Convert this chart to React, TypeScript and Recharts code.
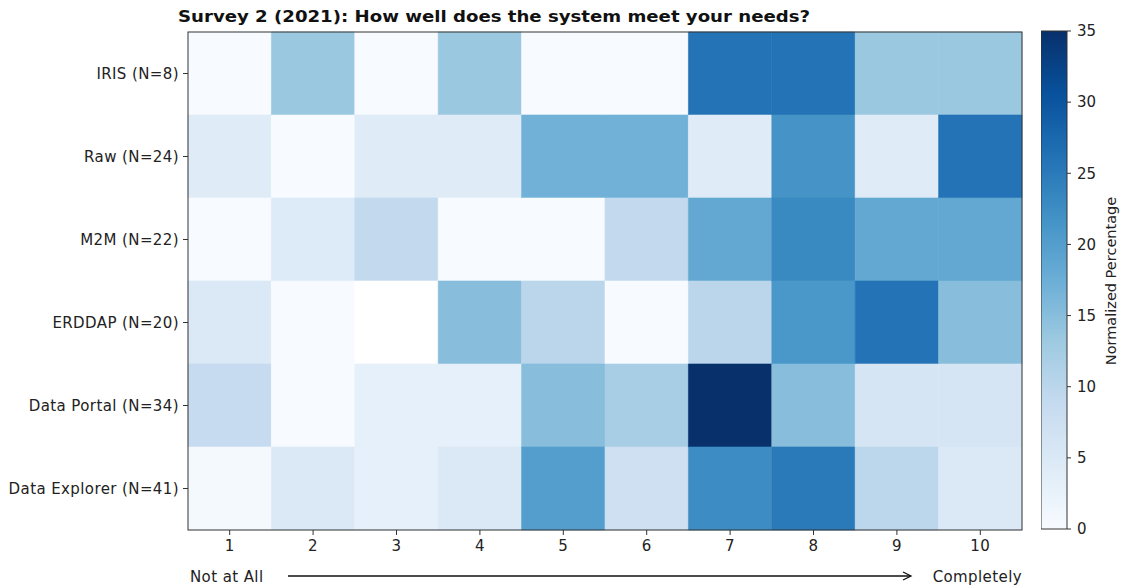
import { BarChart, Bar, Cell, XAxis, YAxis } from 'recharts'

// heatmap: survey 2 (2021), normalized % of answers per score
const rowLabels = ['IRIS (N=8)', 'Raw (N=24)', 'M2M (N=22)', 'ERDDAP (N=20)', 'Data Portal (N=34)', 'Data Explorer (N=41)']
const scoreLabels = ['1', '2', '3', '4', '5', '6', '7', '8', '9', '10']

const iris = [0, 13.5, 0, 13.5, 0, 0, 26, 26, 13.5, 13.5]
const raw = [4.2, 0, 4.2, 4.2, 17, 17, 4.2, 21.5, 4.2, 26]
const m2m = [0, 4.6, 9.1, 0, 0, 9.1, 18.5, 23, 18.5, 18.5]
const erddap = [5, 0, null, 15, 10, 0, 10, 21, 26, 15]
const dataPortal = [8.8, 0, 2.9, 2.9, 15, 12, 35, 15, 5.9, 5.9]
const dataExplorer = [0.5, 5, 2.9, 5, 20, 7.3, 22.5, 25, 9.8, 4.9]

const colorbarTicks = [0, 5, 10, 15, 20, 25, 30, 35]

const rowValues = [iris, raw, m2m, erddap, dataPortal, dataExplorer]
const vmax = 35

// matplotlib "Blues"
const BLUES = ['#f7fbff', '#deebf7', '#c6dbef', '#9ecae1', '#6baed6', '#4292c6', '#2171b5', '#08519c', '#08306b']

const hex = (h: string) => [1, 3, 5].map(i => parseInt(h.slice(i, i + 2), 16))

function blues(v: number | null) {
  if (v == null) return '#ffffff'
  const t = Math.min(1, Math.max(0, v / vmax)) * (BLUES.length - 1)
  const i = Math.min(BLUES.length - 2, Math.floor(t))
  const f = t - i
  const a = hex(BLUES[i])
  const b = hex(BLUES[i + 1])
  const c = a.map((x, k) => Math.round(x + (b[k] - x) * f))
  return `rgb(${c[0]},${c[1]},${c[2]})`
}

const FONT = '"DejaVu Sans", sans-serif'
const INK = '#222'
const tickStyle = { fontSize: 15, fill: INK, fontFamily: FONT, letterSpacing: 0.4 }

// every score column is one unit wide on the x axis
const chartData = rowLabels.map((label, r) => {
  const row: Record<string, any> = { label }
  scoreLabels.forEach((_, i) => { row[`s${i}`] = 1 })
  row.values = rowValues[r]
  return row
})

const colorbarData = [{ name: 'cb', v: vmax }]

export default function App() {
  return (
    <div style={{ position: 'fixed', left: 0, top: 0, width: 1123, height: 588, background: '#fff', fontFamily: FONT }}>
      <div style={{ position: 'absolute', left: 0, top: 0 }}>
        <BarChart
          width={1123}
          height={588}
          layout="vertical"
          data={chartData}
          barCategoryGap={0}
          margin={{ top: 32, right: 101, bottom: 28, left: 8 }}
        >
          <XAxis
            type="number"
            domain={[0, scoreLabels.length]}
            ticks={scoreLabels.map((_, i) => i + 0.5)}
            tickFormatter={(v: number) => scoreLabels[Math.round(v - 0.5)]}
            interval={0}
            height={30}
            axisLine={false}
            tickLine={{ stroke: '#333' }}
            tickSize={5}
            tickMargin={5}
            tick={tickStyle}
          />
          <YAxis
            type="category"
            dataKey="label"
            width={180}
            axisLine={false}
            tickLine={{ stroke: '#333' }}
            tickSize={5}
            tickMargin={4}
            tick={tickStyle}
          />
          {scoreLabels.map((s, i) => (
            <Bar key={s} dataKey={`s${i}`} stackId="heat" isAnimationActive={false}>
              {chartData.map(row => {
                const c = blues(row.values[i])
                return <Cell key={row.label} fill={c} stroke={c} strokeWidth={0.6} />
              })}
            </Bar>
          ))}
        </BarChart>
      </div>

      {/* colorbar */}
      <div style={{ position: 'absolute', left: 1041, top: 0 }}>
        <BarChart
          width={82}
          height={588}
          data={colorbarData}
          barCategoryGap={0}
          margin={{ top: 31, right: 0, bottom: 59, left: 0 }}
        >
          <defs>
            <linearGradient id="cbGrad" x1="0" y1="1" x2="0" y2="0">
              {BLUES.map((c, i) => (
                <stop key={c} offset={`${(i / (BLUES.length - 1)) * 100}%`} stopColor={c} />
              ))}
            </linearGradient>
          </defs>
          <XAxis dataKey="name" type="category" hide />
          <YAxis
            orientation="right"
            type="number"
            domain={[0, vmax]}
            ticks={colorbarTicks}
            interval={0}
            width={56}
            axisLine={false}
            tickLine={{ stroke: '#333' }}
            tickSize={4}
            tickMargin={6}
            tick={{ ...tickStyle, letterSpacing: 0 }}
          />
          <Bar dataKey="v" fill="url(#cbGrad)" stroke="#333" strokeWidth={1} isAnimationActive={false} />
        </BarChart>
      </div>

      {/* title, frame and axis captions */}
      <svg width={1123} height={588} style={{ position: 'absolute', left: 0, top: 0, pointerEvents: 'none' }}>
        <text
          x={178}
          y={22}
          fontSize={16}
          fontWeight="bold"
          fill="#111"
          fontFamily={FONT}
          textLength={632}
          lengthAdjust="spacingAndGlyphs"
        >
          Survey 2 (2021): How well does the system meet your needs?
        </text>
        <rect x={188} y={32} width={834} height={498} fill="none" stroke="#333" strokeWidth={1} />
        <text x={190} y={582} fontSize={15} fill={INK} fontFamily={FONT} letterSpacing={0.4}>Not at All</text>
        <line x1={288} y1={576} x2={910} y2={576} stroke="#111" strokeWidth={1.3} />
        <path d="M 903 572 L 911 576 L 903 580" fill="none" stroke="#111" strokeWidth={1.3} />
        <text x={1022} y={582} fontSize={15} fill={INK} fontFamily={FONT} textAnchor="end" letterSpacing={0.4}>Completely</text>
        <text
          x={1116}
          y={281}
          fontSize={14.5}
          fill={INK}
          fontFamily={FONT}
          textAnchor="middle"
          transform="rotate(-90 1116 281)"
        >
          Normalized Percentage
        </text>
      </svg>
    </div>
  )
}
